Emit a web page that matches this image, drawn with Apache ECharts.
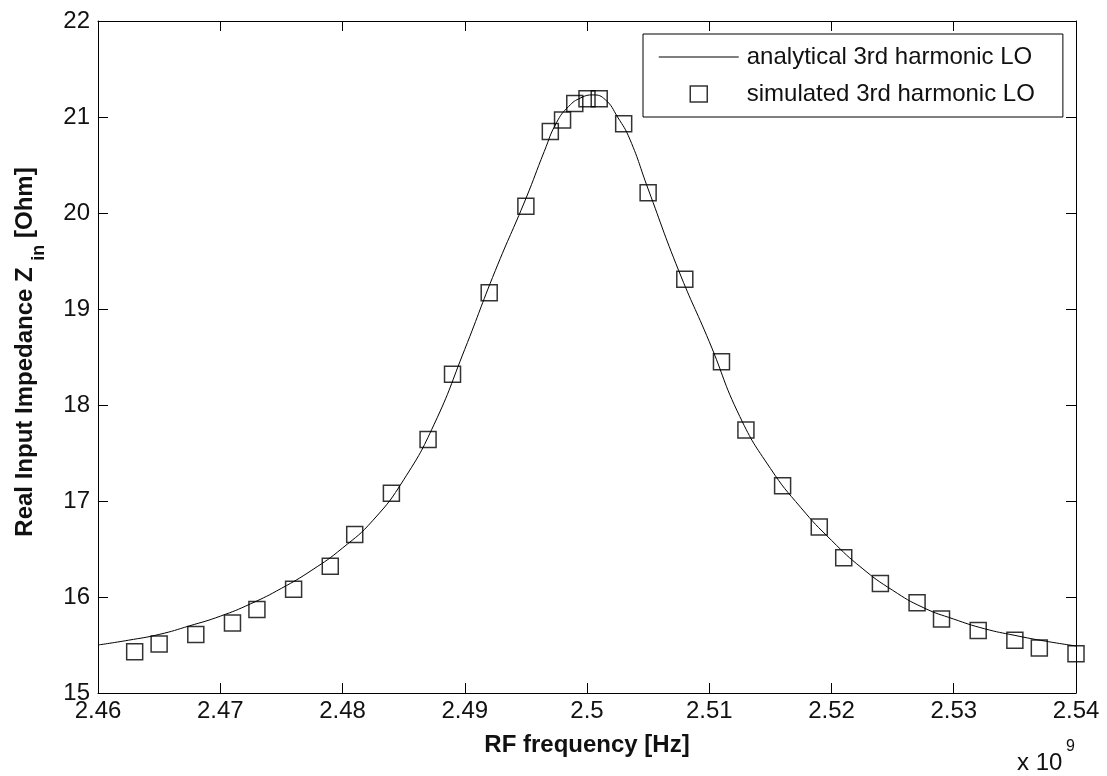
<!DOCTYPE html>
<html>
<head>
<meta charset="utf-8">
<script src="https://cdn.jsdelivr.net/npm/echarts@6/dist/echarts.min.js"></script>
<style>
  html, body { margin: 0; padding: 0; background: #fff; }
  #chart { width: 1107px; height: 776px; }
</style>
</head>
<body>
<div id="chart"></div>
<script>
// x values in units of 1e9 Hz (axis shows "x 10^9")
const anaX = [2.460, 2.4625, 2.465, 2.4675, 2.470, 2.4725, 2.475, 2.4775, 2.480, 2.4825, 2.485, 2.4875, 2.490, 2.4925, 2.495, 2.4965, 2.4975, 2.4985, 2.4995, 2.5005, 2.5015, 2.5025, 2.5035, 2.505, 2.5075, 2.510, 2.5125, 2.515, 2.5175, 2.520, 2.5225, 2.525, 2.5275, 2.530, 2.5325, 2.535, 2.5375, 2.540];
const anaY = [15.50, 15.55, 15.61, 15.70, 15.80, 15.93, 16.09, 16.28, 16.51, 16.80, 17.22, 17.80, 18.58, 19.40, 20.15, 20.64, 20.94, 21.11, 21.20, 21.23, 21.18, 21.00, 20.77, 20.25, 19.40, 18.66, 17.88, 17.34, 16.93, 16.59, 16.30, 16.07, 15.89, 15.77, 15.67, 15.60, 15.54, 15.49];

const simX = [2.463, 2.465, 2.468, 2.471, 2.473, 2.476, 2.479, 2.481, 2.484, 2.487, 2.489, 2.492, 2.495, 2.497, 2.498, 2.499, 2.500, 2.501, 2.503, 2.505, 2.508, 2.511, 2.513, 2.516, 2.519, 2.521, 2.524, 2.527, 2.529, 2.532, 2.535, 2.537, 2.540];
const simY = [15.43, 15.51, 15.61, 15.73, 15.87, 16.08, 16.32, 16.65, 17.08, 17.64, 18.32, 19.17, 20.07, 20.85, 20.97, 21.14, 21.19, 21.19, 20.93, 20.21, 19.31, 18.45, 17.74, 17.16, 16.73, 16.41, 16.14, 15.94, 15.77, 15.65, 15.55, 15.47, 15.41];

const seriesNames = ['analytical 3rd harmonic LO', 'simulated 3rd harmonic LO'];
const xTitle = 'RF frequency [Hz]';
const yTitleMain = 'Real Input Impedance Z ';
const yTitleSub = 'in';
const yTitleTail = ' [Ohm]';
const xExponentBase = 'x 10';
const xExponent = '9';

const FONT = "'Liberation Sans', Arial, Helvetica, sans-serif";
const INK = '#111';

// measure y-title pieces so the subscript can sit right after "Z"
const mctx = document.createElement('canvas').getContext('2d');
function tw(text, font) { mctx.font = font; return mctx.measureText(text).width; }
const mainFont = 'bold 24px ' + FONT;
const subFont = 'bold 18px ' + FONT;
const wMain = tw(yTitleMain, mainFont);
const wSub = tw(yTitleSub, subFont);
const wTail = tw(yTitleTail, mainFont);
const wTotal = wMain + wSub + wTail;
const yTitleCenter = 352;

const chart = echarts.init(document.getElementById('chart'), null, { renderer: 'canvas' });

const axisLineStyle = { color: '#000', width: 1 };
const tickCommon = { show: true, inside: true, length: 10, lineStyle: { color: '#000', width: 1 } };

const lineIcon = 'path://M0,0 M80,17 M0,7.9 L80,7.9 L80,9.1 L0,9.1 Z';
const squareIcon = 'path://M0,0 M80,17 M31.5,0.5 L48.5,0.5 L48.5,16.5 L31.5,16.5 Z';

const option = {
  backgroundColor: '#fff',
  animation: false,
  grid: { left: 98, right: 31, top: 21, bottom: 83, containLabel: false, outerBoundsMode: 'none' },
  xAxis: [
    {
      type: 'value', position: 'bottom', min: 2.46, max: 2.54, interval: 0.01,
      axisLine: { show: true, onZero: false, lineStyle: axisLineStyle },
      axisTick: tickCommon,
      splitLine: { show: false },
      axisLabel: {
        fontSize: 24, color: INK, fontFamily: FONT, margin: 6,
        formatter: v => String(+v.toFixed(2))
      },
      name: xTitle, nameLocation: 'middle', nameGap: 40,
      nameTextStyle: { fontSize: 24, fontWeight: 'bold', color: INK, fontFamily: FONT }
    },
    {
      type: 'value', position: 'top', min: 2.46, max: 2.54, interval: 0.01,
      axisLine: { show: true, onZero: false, lineStyle: axisLineStyle },
      axisTick: tickCommon,
      splitLine: { show: false },
      axisLabel: { show: false }
    }
  ],
  yAxis: [
    {
      type: 'value', position: 'left', min: 15, max: 22, interval: 1,
      axisLine: { show: true, onZero: false, lineStyle: axisLineStyle },
      axisTick: tickCommon,
      splitLine: { show: false },
      axisLabel: { fontSize: 24, color: INK, fontFamily: FONT, margin: 8 }
    },
    {
      type: 'value', position: 'right', min: 15, max: 22, interval: 1,
      axisLine: { show: true, onZero: false, lineStyle: axisLineStyle },
      axisTick: tickCommon,
      splitLine: { show: false },
      axisLabel: { show: false }
    }
  ],
  legend: {
    orient: 'vertical', left: 643, top: 34,
    itemWidth: 80, itemHeight: 17, itemGap: 13,
    padding: [11, 28, 11, 15],
    borderColor: '#000', borderWidth: 1, backgroundColor: '#fff',
    textStyle: { fontSize: 24, color: INK, fontFamily: FONT, padding: [0, 0, 0, 3] },
    selectedMode: false,
    data: [
      { name: seriesNames[0], icon: lineIcon, itemStyle: { color: '#000', borderWidth: 0 } },
      { name: seriesNames[1], icon: squareIcon, itemStyle: { color: 'rgba(0,0,0,0)', borderColor: '#000', borderWidth: 1.5 } }
    ]
  },
  series: [
    {
      name: seriesNames[0], type: 'line',
      xAxisIndex: 0, yAxisIndex: 0,
      data: anaX.map((x, i) => [x, anaY[i]]),
      smooth: true, symbol: 'none', showSymbol: false,
      lineStyle: { color: '#000', width: 1 },
      itemStyle: { color: '#000' },
      z: 2
    },
    {
      name: seriesNames[1], type: 'scatter',
      xAxisIndex: 0, yAxisIndex: 0,
      data: simX.map((x, i) => [x, simY[i]]),
      symbol: 'rect', symbolSize: 16,
      itemStyle: { color: 'rgba(0,0,0,0)', borderColor: '#000', borderWidth: 1.5 },
      z: 3
    }
  ],
  graphic: [
    {
      type: 'group', x: 25, y: yTitleCenter + wTotal / 2, rotation: Math.PI / 2,
      children: [
        { type: 'text', x: 0, y: 0, style: { text: yTitleMain, font: mainFont, fill: INK, align: 'left', verticalAlign: 'middle' } },
        { type: 'text', x: wMain, y: 14, style: { text: yTitleSub, font: subFont, fill: INK, align: 'left', verticalAlign: 'middle' } },
        { type: 'text', x: wMain + wSub, y: 0, style: { text: yTitleTail, font: mainFont, fill: INK, align: 'left', verticalAlign: 'middle' } }
      ]
    },
    {
      type: 'text', x: 1017, y: 763,
      style: { text: xExponentBase, fontSize: 24, fontFamily: FONT, fill: INK, align: 'left', verticalAlign: 'middle' }
    },
    {
      type: 'text', x: 1066, y: 747,
      style: { text: xExponent, fontSize: 16, fontFamily: FONT, fill: INK, align: 'left', verticalAlign: 'middle' }
    }
  ]
};

chart.setOption(option);
</script>
</body>
</html>
